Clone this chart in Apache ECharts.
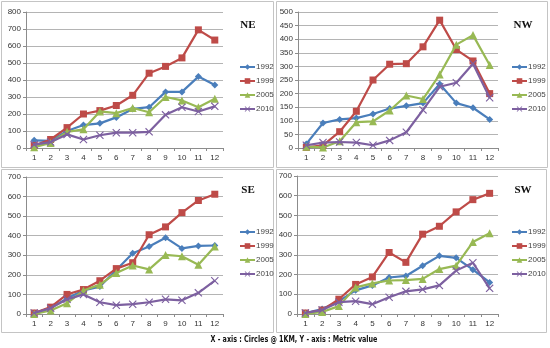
<!DOCTYPE html>
<html>
<head>
<meta charset="utf-8">
<script src="https://cdn.jsdelivr.net/npm/echarts@6/dist/echarts.min.js"></script>
<style>
  html, body { margin: 0; padding: 0; background: #fff; }
  #chart { width: 550px; height: 348px; }
</style>
</head>
<body>
<div id="chart"></div>
<script>
// Distance circles (1 km each) on the x axis
const categories = ['1', '2', '3', '4', '5', '6', '7', '8', '9', '10', '11', '12'];
const years = ['1992', '1999', '2005', '2010'];

// NE quadrant
const ne1992 = [45, 42, 100, 135, 145, 180, 230, 240, 330, 330, 420, 370];
const ne1999 = [15, 50, 120, 200, 220, 250, 310, 440, 480, 530, 695, 635];
const ne2005 = [5, 30, 95, 110, 215, 205, 235, 210, 300, 280, 240, 290];
const ne2010 = [20, 35, 80, 50, 75, 90, 90, 95, 195, 240, 215, 245];

// NW quadrant
const nw1992 = [15, 92, 105, 110, 125, 145, 155, 165, 235, 165, 148, 105];
const nw1999 = [2, 10, 60, 135, 250, 308, 310, 372, 470, 362, 320, 200];
const nw2005 = [5, 2, 25, 95, 98, 138, 193, 180, 270, 380, 415, 305];
const nw2010 = [10, 20, 22, 20, 10, 28, 58, 140, 225, 240, 310, 185];

// SE quadrant
const se1992 = [5, 30, 80, 120, 140, 225, 310, 345, 390, 335, 348, 350];
const se1999 = [5, 35, 100, 125, 170, 232, 262, 405, 445, 518, 580, 612];
const se2005 = [0, 18, 55, 120, 150, 210, 248, 228, 302, 295, 252, 345];
const se2010 = [5, 30, 75, 100, 60, 45, 50, 60, 75, 70, 108, 170];

// SW quadrant
const sw1992 = [5, 25, 65, 120, 145, 185, 193, 245, 295, 285, 225, 160];
const sw1999 = [5, 20, 75, 150, 188, 312, 262, 405, 445, 518, 580, 612];
const sw2005 = [0, 10, 40, 135, 155, 170, 172, 178, 228, 245, 365, 410];
const sw2010 = [5, 20, 60, 65, 50, 85, 115, 125, 145, 220, 260, 130];

const panelNames = ['NE', 'NW', 'SE', 'SW'];
const panelMax = [800, 500, 700, 700];
const panelStep = [100, 50, 100, 100];
const panelData = [
  [ne1992, ne1999, ne2005, ne2010],
  [nw1992, nw1999, nw2005, nw2010],
  [se1992, se1999, se2005, se2010],
  [sw1992, sw1999, sw2005, sw2010]
];

const colors = ['#4A7EBB', '#BE4B48', '#98B954', '#7D60A0'];
const crossPath = 'path://M1,0L5,4L9,0L10,1L6,5L10,9L9,10L5,6L1,10L0,9L4,5L0,1Z';
const symbols = ['diamond', 'rect', 'triangle', crossPath];
const symbolSizes = [7, 7, 8, 8];

// Panel frames and plot rectangles
const frames = [
  { x: 1, y: 1, w: 272, h: 166 },
  { x: 276, y: 1, w: 271, h: 166 },
  { x: 1, y: 169, w: 272, h: 163 },
  { x: 276, y: 169, w: 270, h: 163 }
];
const plots = [
  { left: 26, top: 12, width: 197, height: 136 },
  { left: 298, top: 12, width: 200, height: 136 },
  { left: 26, top: 177, width: 197, height: 137 },
  { left: 297, top: 176, width: 201, height: 138 }
];
const titlePos = [[248, 25], [523, 25], [248, 190], [523, 190]];
const legendPos = [[234, 58], [506, 58], [234, 223], [506, 223]];

const labelFont = { fontSize: 8, color: '#333', fontFamily: 'Liberation Sans, Arial, sans-serif' };

const grid = [], xAxis = [], yAxis = [], series = [], legend = [], graphic = [];

plots.forEach((p, i) => {
  grid.push({ left: p.left, top: p.top, width: p.width, height: p.height, containLabel: false });
  xAxis.push({
    type: 'category', gridIndex: i, data: categories, boundaryGap: true,
    axisLine: { lineStyle: { color: '#8c8c8c', width: 1 } },
    axisTick: { show: true, length: 3, lineStyle: { color: '#8c8c8c' } },
    axisLabel: Object.assign({ margin: 6 }, labelFont)
  });
  yAxis.push({
    type: 'value', gridIndex: i, min: 0, max: panelMax[i], interval: panelStep[i],
    axisLine: { show: true, lineStyle: { color: '#8c8c8c', width: 1 } },
    axisTick: { show: true, length: 3, lineStyle: { color: '#8c8c8c' } },
    axisLabel: Object.assign({ margin: 5 }, labelFont),
    splitLine: { show: true, lineStyle: { color: '#b4b4b4', width: 1 } }
  });
  panelData[i].forEach((vals, k) => {
    series.push({
      name: years[k], type: 'line', xAxisIndex: i, yAxisIndex: i, data: vals,
      symbol: symbols[k], symbolSize: symbolSizes[k], showAllSymbol: true,
      lineStyle: { color: colors[k], width: 2.2 },
      itemStyle: { color: colors[k], borderWidth: 0 },
      emphasis: { disabled: true }, animation: false, z: 2 + k
    });
  });
  legend.push({
    data: years, orient: 'vertical', left: legendPos[i][0], top: legendPos[i][1],
    itemWidth: 15, itemHeight: 7, itemGap: 6,
    textStyle: { fontSize: 8, color: '#444', padding: [0, 0, 0, -4], fontFamily: 'Liberation Sans, Arial, sans-serif' },
    selectedMode: false
  });
  graphic.push({
    type: 'rect', shape: { x: frames[i].x + 0.5, y: frames[i].y + 0.5, width: frames[i].w, height: frames[i].h },
    style: { fill: 'none', stroke: '#c4c4c4', lineWidth: 1 }, z: -10, silent: true
  });
  graphic.push({
    type: 'text', x: titlePos[i][0], y: titlePos[i][1],
    style: { text: panelNames[i], fill: '#111', font: 'bold 11px "Liberation Serif", "Times New Roman", serif', textAlign: 'center', textVerticalAlign: 'middle' },
    silent: true
  });
});

// Caption under the panels, horizontally condensed
graphic.push({
  type: 'text', x: 294, y: 340, scaleX: 0.8,
  style: { text: 'X - axis : Circles @ 1KM, Y - axis : Metric value', fill: '#111', font: 'bold 8px "DejaVu Sans", sans-serif', textAlign: 'center', textVerticalAlign: 'middle' },
  silent: true
});

const chart = echarts.init(document.getElementById('chart'), null, { renderer: 'canvas' });
chart.setOption({
  animation: false,
  backgroundColor: '#fff',
  color: colors,
  grid, xAxis, yAxis, series, legend, graphic
});
</script>
</body>
</html>
